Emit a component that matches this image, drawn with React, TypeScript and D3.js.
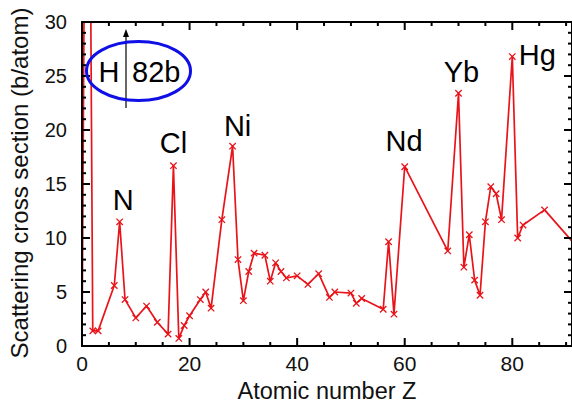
import React, { useEffect, useRef } from "react";
import * as d3 from "d3";

// atomic number Z and scattering cross section (b/atom)
const atomicNumbers = [0, 1, 2, 3, 6, 7, 8, 10, 12, 14, 16, 17, 18, 19, 20, 22, 23, 24, 26, 28, 29, 30, 31, 32, 34, 35, 36, 37, 38, 40, 42, 44, 46, 47, 50, 51, 52, 56, 57, 58, 60, 68, 70, 71, 72, 73, 74, 75, 76, 77, 78, 80, 81, 82, 86, 92];
const crossSections = [0, 82, 1.4, 1.4, 5.6, 11.5, 4.3, 2.6, 3.7, 2.2, 1.1, 16.7, 0.7, 1.9, 2.8, 4.3, 5.0, 3.5, 11.7, 18.5, 8.0, 4.2, 6.9, 8.6, 8.4, 6.0, 7.7, 6.9, 6.3, 6.5, 5.7, 6.7, 4.5, 5.0, 4.9, 3.95, 4.4, 3.4, 9.65, 2.95, 16.6, 8.8, 23.4, 7.3, 10.3, 6.1, 4.7, 11.5, 14.75, 14.1, 11.7, 26.8, 10.0, 11.2, 12.6, 9.2];

const peakLabels = ["N", "Cl", "Ni", "Nd", "Yb", "Hg"];
const peakZ = [7, 17, 28, 60, 70, 80];

const xTicks = [0, 20, 40, 60, 80];
const yTicks = [0, 5, 10, 15, 20, 25, 30];

const W = 572;
const H = 405;
const M = { left: 82, top: 22, right: 0, bottom: 59 };
const FONT = "'Liberation Sans', Arial, Helvetica, sans-serif";
const RED = "#e8141a";

export default function App() {
  const ref = useRef<SVGSVGElement>(null);

  useEffect(() => {
    const svg = d3.select(ref.current);
    svg.selectAll("*").remove();

    const x = d3.scaleLinear().domain([0, 91.1]).range([M.left, W - M.right]);
    const y = d3.scaleLinear().domain([0, 30]).range([H - M.bottom, M.top]);
    const data = atomicNumbers.map((z, i) => ({ z, v: crossSections[i] }));

    svg.append("defs").append("clipPath").attr("id", "plot")
      .append("rect")
      .attr("x", M.left).attr("y", M.top)
      .attr("width", W - M.left - M.right).attr("height", H - M.top - M.bottom);

    const plot = svg.append("g").attr("clip-path", "url(#plot)");

    const line = d3.line<{ z: number; v: number }>()
      .x(d => x(d.z))
      .y(d => y(d.v));

    plot.append("path")
      .datum(data)
      .attr("d", line)
      .attr("fill", "none")
      .attr("stroke", RED)
      .attr("stroke-width", 1.7)
      .attr("stroke-linejoin", "round");

    const s = 3.2;
    plot.selectAll("path.mark")
      .data(data.filter(d => d.z > 0))
      .enter()
      .append("path")
      .attr("class", "mark")
      .attr("d", d => {
        const cx = x(d.z), cy = y(d.v);
        return `M${cx - s},${cy - s}L${cx + s},${cy + s}M${cx - s},${cy + s}L${cx + s},${cy - s}`;
      })
      .attr("stroke", RED)
      .attr("stroke-width", 1.3);

    // frame with inward ticks on all sides
    const x0 = x.range()[0], x1 = x.range()[1];
    const y0 = y.range()[0], y1 = y.range()[1];
    const axes = svg.append("g").attr("stroke", "#000").attr("stroke-width", 2);
    axes.append("rect")
      .attr("x", x0).attr("y", y1)
      .attr("width", x1 - x0).attr("height", y0 - y1)
      .attr("fill", "none");

    d3.range(0, 92, 5).forEach(t => {
      const len = t % 20 === 0 ? 8 : 4;
      const px = x(t);
      axes.append("line").attr("x1", px).attr("x2", px).attr("y1", y0).attr("y2", y0 - len);
      axes.append("line").attr("x1", px).attr("x2", px).attr("y1", y1).attr("y2", y1 + len);
    });
    d3.range(0, 31, 1).forEach(t => {
      const len = t % 5 === 0 ? 8 : 4;
      const py = y(t);
      axes.append("line").attr("x1", x0).attr("x2", x0 + len).attr("y1", py).attr("y2", py);
      axes.append("line").attr("x1", x1).attr("x2", x1 - len).attr("y1", py).attr("y2", py);
    });

    const txt = svg.append("g").attr("font-family", FONT).attr("fill", "#111");

    txt.selectAll("text.xt")
      .data(xTicks)
      .enter()
      .append("text")
      .attr("x", d => x(d))
      .attr("y", y0 + 25)
      .attr("text-anchor", "middle")
      .attr("font-size", 21)
      .text(d => d);

    txt.selectAll("text.yt")
      .data(yTicks)
      .enter()
      .append("text")
      .attr("x", x0 - 15)
      .attr("y", d => y(d) + 7)
      .attr("text-anchor", "end")
      .attr("font-size", 20)
      .text(d => d);

    txt.append("text")
      .attr("x", 327)
      .attr("y", 399)
      .attr("text-anchor", "middle")
      .attr("font-size", 23.5)
      .text("Atomic number Z");

    txt.append("text")
      .attr("transform", `translate(28,183) rotate(-90)`)
      .attr("text-anchor", "middle")
      .attr("font-size", 24)
      .text("Scattering cross section (b/atom)");

    // peak element labels
    const nudge: Record<string, [number, number]> = {
      N: [3.5, -12], Cl: [0, -12.5], Ni: [5, -10], Nd: [-0.7, -15.5], Yb: [3, -11.5], Hg: [25, 8],
    };
    peakLabels.forEach((name, i) => {
      const d = data.find(p => p.z === peakZ[i])!;
      const [dx, dy] = nudge[name];
      txt.append("text")
        .attr("x", x(d.z) + dx)
        .attr("y", y(d.v) + dy)
        .attr("text-anchor", "middle")
        .attr("font-size", 29)
        .attr("fill", "#000")
        .text(name);
    });

    // hydrogen off-scale annotation
    const hx = 126;
    svg.append("line")
      .attr("x1", hx).attr("x2", hx)
      .attr("y1", 108).attr("y2", 36)
      .attr("stroke", "#000").attr("stroke-width", 1.2);
    svg.append("path")
      .attr("d", `M${hx},29L${hx - 3},37L${hx + 3},37Z`)
      .attr("fill", "#000");
    svg.append("ellipse")
      .attr("cx", 138.5).attr("cy", 71)
      .attr("rx", 52).attr("ry", 29.5)
      .attr("fill", "none")
      .attr("stroke", "#1010e6")
      .attr("stroke-width", 3);
    svg.append("text")
      .attr("x", 109).attr("y", 82)
      .attr("text-anchor", "middle")
      .attr("font-family", FONT).attr("font-size", 29)
      .text("H");
    svg.append("text")
      .attr("x", 132).attr("y", 82)
      .attr("font-family", FONT).attr("font-size", 29)
      .text("82b");
  }, []);

  return (
    <svg
      ref={ref}
      width={W}
      height={H}
      style={{ position: "absolute", left: 0, top: 0, background: "#fff" }}
    />
  );
}
